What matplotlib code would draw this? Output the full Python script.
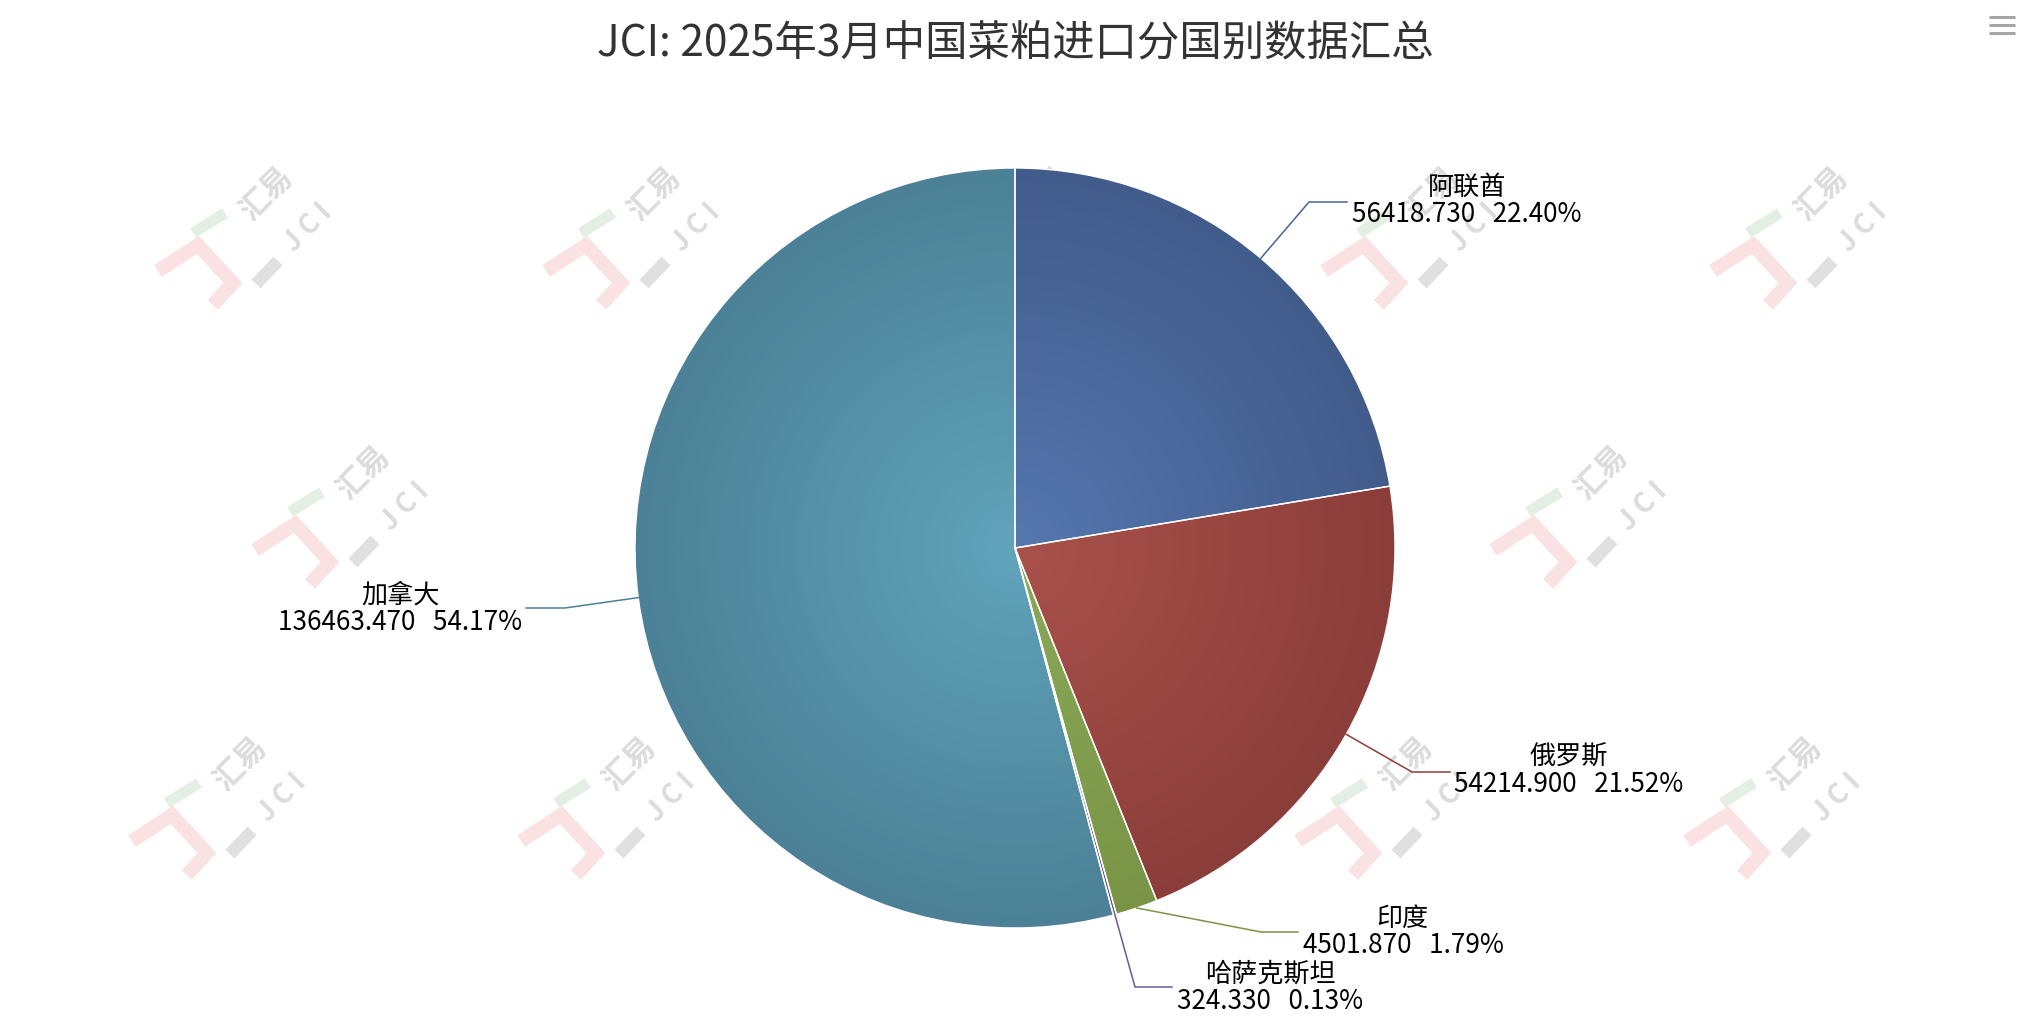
import numpy as np
import matplotlib
matplotlib.use('Agg')
import matplotlib.pyplot as plt
from matplotlib.patches import Wedge
from matplotlib.colors import to_rgb

plt.rcParams['font.family'] = ['Noto Sans CJK SC', 'DejaVu Sans']

W, H = 2032, 1030

# 数据
countries = ['阿联酋', '俄罗斯', '印度', '哈萨克斯坦', '加拿大']
volumes = [56418.730, 54214.900, 4501.870, 324.330, 136463.470]
percents = [22.40, 21.52, 1.79, 0.13, 54.17]

# 样式（径向渐变：中心色 / 边缘色）
center_colors = ['#5577b0', '#a9514b', '#8ca85a', '#7c6aa4', '#60a4bb']
edge_colors = ['#415b8b', '#8b3d39', '#789444', '#65558c', '#4b8096']
line_colors = ['#46639a', '#8b3d3a', '#7b9444', '#6c5a96', '#4a8199']

# 标签位置（像素，顶部为0）：文字中心、折点、连线终点
label_pos = [(1467, 201), (1569, 771), (1403, 932), (1270, 988), (400, 609)]
elbow_pos = [(1309, 202), (1412, 772), (1261, 932), (1135, 987), (565, 608)]
end_pos = [(1347, 202), (1450, 772), (1298, 932), (1172, 987), (526, 608)]

PIE_CX, PIE_CY, PIE_R = 1015, 548, 380


def fy(y):
    return H - y


fig = plt.figure(figsize=(W / 100, H / 100), dpi=100)
ax = fig.add_axes([0, 0, 1, 1])

# 水印
def watermark(x, y):
    kw = dict(solid_capstyle='butt', solid_joinstyle='miter', zorder=0)
    px = np.array([-95, -55, -20, -40]) + x
    py = np.array([30, 4, 42, 64]) + y
    ax.plot(px, fy(py), color='#fbe2e2', lw=10, **kw)
    ax.plot(np.array([-60, -28]) + x, fy(np.array([-8, -28]) + y), color='#e4efe4', lw=8, **kw)
    ax.plot(np.array([3, 25]) + x, fy(np.array([43, 20]) + y), color='#e0e0e0', lw=9, **kw)
    ax.text(x + 13, fy(y - 47), '汇易', rotation=45, fontsize=22, color='#dcdcdc',
            ha='center', va='center', zorder=0, fontweight='bold')
    ax.text(x + 55, fy(y - 13), 'J C I', rotation=45, fontsize=20, color='#dcdcdc',
            ha='center', va='center', zorder=0, fontweight='bold')

for wx in [253, 641, 1030, 1419, 1808]:
    watermark(wx, 241)
for wx in [350, 1588]:
    watermark(wx, 520)
for wx in [227, 616, 1005, 1393, 1782]:
    watermark(wx, 811)

# 饼图
wedges, _ = ax.pie(volumes, colors=center_colors, startangle=90, counterclock=False,
                   center=(PIE_CX, fy(PIE_CY)), radius=PIE_R,
                   wedgeprops=dict(edgecolor='white', linewidth=1.0))

# 径向渐变
N = 60
for w, c0, c1 in zip(wedges, center_colors, edge_colors):
    c0 = np.array(to_rgb(c0))
    c1 = np.array(to_rgb(c1))
    for i in range(N):
        t = 1 - i / N
        col = c0 * (1 - t) + c1 * t
        ax.add_patch(Wedge(w.center, PIE_R * t, w.theta1, w.theta2,
                           facecolor=col, edgecolor='none', zorder=2))
    w.set_facecolor('none')
    w.set_zorder(3)

# 标签与连线
for i, w in enumerate(wedges):
    mid = np.deg2rad((w.theta1 + w.theta2) / 2)
    sx = PIE_CX + PIE_R * np.cos(mid)
    sy = fy(PIE_CY) + PIE_R * np.sin(mid)
    ex, ey = elbow_pos[i]
    tx, ty = end_pos[i]
    ax.plot([sx, ex, tx], [sy, fy(ey), fy(ty)], color=line_colors[i], lw=1.1, zorder=4)
    lx, ly = label_pos[i]
    ax.text(lx, fy(ly), f'{countries[i]}\n{volumes[i]:.3f}   {percents[i]:.2f}%',
            ha='center', va='center', multialignment='center', fontsize=18.8,
            color='#000000', linespacing=1.02, zorder=5)

# 标题
ax.text(1015, fy(43), 'JCI: 2025年3月中国菜粕进口分国别数据汇总', ha='center', va='center',
        fontsize=30.5, color='#333333', zorder=5)

# 菜单图标
for yy in [17, 25, 33]:
    ax.plot([1989, 2015], [fy(yy), fy(yy)], color='#a6a6a6', lw=2.2, solid_capstyle='butt')

ax.set_xlim(0, W)
ax.set_ylim(0, H)
ax.set_aspect('equal')
ax.axis('off')

fig.savefig('out.png', dpi=100, facecolor='white')
